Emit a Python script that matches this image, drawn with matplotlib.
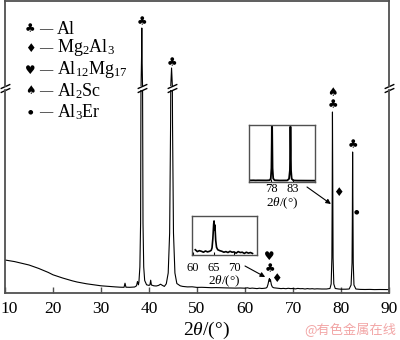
import matplotlib
matplotlib.use("Agg")
import matplotlib.pyplot as plt
import matplotlib.transforms as mtransforms

plt.rcParams['font.family'] = ['Liberation Serif', 'DejaVu Sans']
plt.rcParams['mathtext.fontset'] = 'custom'
plt.rcParams['mathtext.rm'] = 'Liberation Serif'
plt.rcParams['mathtext.it'] = 'Liberation Serif:italic'
plt.rcParams['mathtext.bf'] = 'Liberation Serif:bold'

# XRD scan: 2θ (degrees) and intensity (arbitrary counts)
two_theta = [10, 11, 12, 13, 14, 15, 16, 17, 18, 19, 20, 21, 22, 23, 24, 25, 26, 27, 28, 29,
             30, 31, 32, 33, 34, 34.8, 35.0, 35.2, 36, 37, 37.4, 37.6, 37.8,
             37.9, 38.1, 38.25, 38.35, 38.45, 38.5, 38.55, 38.65, 38.75, 38.9, 39.1, 39.5,
             40, 40.2, 40.35, 40.5, 41, 41.5, 42, 42.4, 42.8, 43.2, 43.6, 44.0, 44.3, 44.5,
             44.55, 44.7, 44.85, 44.9, 45.1, 45.4, 45.8, 46.5, 47, 48, 49, 50, 51, 52, 53, 54,
             55, 56, 57, 58, 59, 60, 60.5, 61, 61.5, 62, 62.5, 63, 63.5, 64, 64.4, 64.6, 64.8,
             65.0, 65.1, 65.2, 65.3, 65.5, 65.7, 66, 66.5, 67, 67.5, 68, 68.5, 69, 69.5, 70,
             70.5, 71, 71.5, 72, 72.5, 73, 73.5, 74, 74.5, 75, 76, 77, 77.7, 77.95, 78.1, 78.17,
             78.22, 78.28, 78.35, 78.5, 78.8, 79.5, 80, 81, 81.7, 82.1, 82.3, 82.37, 82.42,
             82.48, 82.55, 82.7, 83.1, 84, 85, 86, 87, 88, 89, 90]
intensity = [330, 322, 314, 303, 292, 280, 263, 246, 226, 206, 182, 166, 150, 136, 122, 110, 101, 92, 85, 78,
             72, 68, 64, 61, 58, 57, 98, 58, 57, 60, 72, 115, 82,
             110, 260, 700, 2200, 5000, 7830, 5000, 2200, 700, 260, 125, 82,
             76, 82, 128, 80, 72, 70, 76, 88, 76, 66, 92, 200, 600, 1700,
             2300, 3830, 2300, 1700, 600, 200, 95, 72, 66, 61, 62, 56, 57, 55, 53, 54,
             52, 51, 50, 49, 50, 48, 52, 46, 49, 47, 44, 48, 45, 47, 50, 58, 88,
             135, 145, 116, 132, 82, 60, 52, 49, 47, 44, 46, 43, 47, 44, 45,
             41, 46, 43, 44, 40, 44, 41, 43, 40, 42, 40, 40, 45, 90, 350, 1000,
             1810, 1000, 350, 90, 45, 40, 38, 38, 40, 80, 300, 800, 1410,
             800, 300, 80, 40, 36, 35, 36, 34, 35, 34, 34]

phase_symbols = ['\u2663', '\u2666', '\u2665', '\u2660', '\u25cf']
phase_names = ['Al', r'Mg$_2$Al$_3$', r'Al$_{12}$Mg$_{17}$', r'Al$_2$Sc', r'Al$_3$Er']

x_ticks = [10, 20, 30, 40, 50, 60, 70, 80, 90]
inset1_ticks = [60, 65, 70]
inset2_ticks = [78, 83]

W, H = 400, 340
fig = plt.figure(figsize=(W / 100, H / 100), dpi=100)


def fx(px):
    return px / W


def fy(py):
    return 1 - py / H


def box(x0, y0, x1, y1):
    return [fx(x0), fy(y1), (x1 - x0) / W, (y1 - y0) / H]


SPINE = '#505050'
SYM_FONT = ['DejaVu Sans']

ax_lo = fig.add_axes(box(5, 90, 389, 293))
ax_hi = fig.add_axes(box(5, 1, 389, 86))

for ax in (ax_lo, ax_hi):
    ax.plot(two_theta, intensity, color='k', lw=0.8)
    ax.set_xlim(10, 90)
    for s in ax.spines.values():
        s.set_color(SPINE)
        s.set_linewidth(1.3)
    ax.set_yticks([])

ax_lo.set_ylim(0, 2030)
ax_hi.set_ylim(2030, 10530)
ax_lo.spines['top'].set_visible(False)
ax_hi.spines['bottom'].set_visible(False)
ax_hi.set_xticks([])

ax_lo.set_xticks(x_ticks)
ax_lo.tick_params(axis='x', direction='in', length=4, width=1, color=SPINE,
                  labelsize=12.5, pad=6)
# nudge the first label inward so it stays on the canvas
first = ax_lo.get_xticklabels()[0]
first.set_transform(first.get_transform() +
                    mtransforms.ScaledTranslation(4 / 100, 0, fig.dpi_scale_trans))

fig.text(fx(206), fy(330), r'2$\it{\theta}$/(°)', ha='center', va='center', fontsize=14)

# break marks on the axis frame and on the two strongest reflections
brk = dict(marker=[(-1, -0.45), (1, 0.45)], markersize=7, linestyle='none',
           color='k', mec='k', mew=1, clip_on=False)
ax_hi.plot([0, 1], [0, 0], transform=ax_hi.transAxes, **brk)
ax_lo.plot([0, 1], [1, 1], transform=ax_lo.transAxes, **brk)
for ax, yb in ((ax_hi, 0), (ax_lo, 1)):
    tr = mtransforms.blended_transform_factory(ax.transData, ax.transAxes)
    ax.plot([38.5, 44.7], [yb, yb], transform=tr, **brk)

# phase markers
sym_kw = dict(ha='center', va='center', fontsize=8.5, family=SYM_FONT, clip_on=False)
dot_kw = dict(sym_kw, fontsize=4.5)
ax_hi.text(38.5, 8430, '\u2663', **sym_kw)
ax_hi.text(44.75, 4330, '\u2663', **sym_kw)
ax_lo.text(78.3, 2010, '\u2660', **sym_kw)
ax_lo.text(78.3, 1880, '\u2663', **sym_kw)
ax_lo.text(79.4, 1010, '\u2666', **sym_kw)
ax_lo.text(82.5, 1480, '\u2663', **sym_kw)
ax_lo.text(83.3, 810, '\u25cf', **dot_kw)
ax_lo.text(65.0, 370, '\u2665', **sym_kw)
ax_lo.text(65.2, 240, '\u2663', **sym_kw)
ax_lo.text(66.6, 140, '\u2666', **sym_kw)

# phase key
rows_y = [29, 48, 70, 91, 112]
for sym, name, ry in zip(phase_symbols, phase_names, rows_y):
    size = 4.5 if sym == '\u25cf' else 8.5
    fig.text(fx(30), fy(ry), sym, ha='center', va='center', fontsize=size, family=SYM_FONT)
    fig.text(fx(39.5), fy(ry), '\u2014', ha='left', va='center', fontsize=9.5)
    fig.text(fx(57), fy(ry), name, ha='left', va='center', fontsize=13)

# inset: 60-75 degrees
ins1 = fig.add_axes(box(192, 216, 257, 255))
sel = [(t, v) for t, v in zip(two_theta, intensity) if 60.2 <= t <= 74.5]
ins1.plot([t for t, _ in sel], [v for _, v in sel], color='k', lw=1.2)
ins1.set_xlim(59.7, 75.6)
ins1.set_ylim(35, 161)
ins1.set_yticks([])
ins1.set_xticks(inset1_ticks)
ins1.tick_params(axis='x', direction='in', length=2, labelsize=9, pad=5)
ins1.set_xlabel(r'2$\it{\theta}$/(°)', fontsize=9.5, labelpad=0)

# inset: 73-88 degrees
ins2 = fig.add_axes(box(249, 125, 315, 182))
ins2.plot(two_theta, intensity, color='k', lw=1.3)
ins2.set_xlim(73, 88)
ins2.set_ylim(0, 1450)
ins2.set_yticks([])
ins2.set_xticks(inset2_ticks)
ins2.tick_params(axis='x', direction='in', length=2, labelsize=9, pad=1)
ins2.set_xlabel(r'2$\it{\theta}$/(°)', fontsize=9.5, labelpad=0)

for ins in (ins1, ins2):
    for s in ins.spines.values():
        s.set_color(SPINE)
        s.set_linewidth(1.0)

arrow = dict(arrowstyle='-|>', lw=0.8, color='k', mutation_scale=7, shrinkA=0, shrinkB=0)
ax_lo.annotate('', xy=(64.2, 160), xytext=(245, H - 266), textcoords='figure pixels',
               arrowprops=arrow, annotation_clip=False)
ax_lo.annotate('', xy=(77.9, 890), xytext=(307, H - 187), textcoords='figure pixels',
               arrowprops=arrow, annotation_clip=False)

fig.text(fx(350), fy(330), '@有色金属在线', ha='center', va='center', fontsize=9.5,
         color='#f2a6a6', family=['Noto Sans CJK SC', 'DejaVu Sans'])

fig.savefig('out.png', dpi=100)
